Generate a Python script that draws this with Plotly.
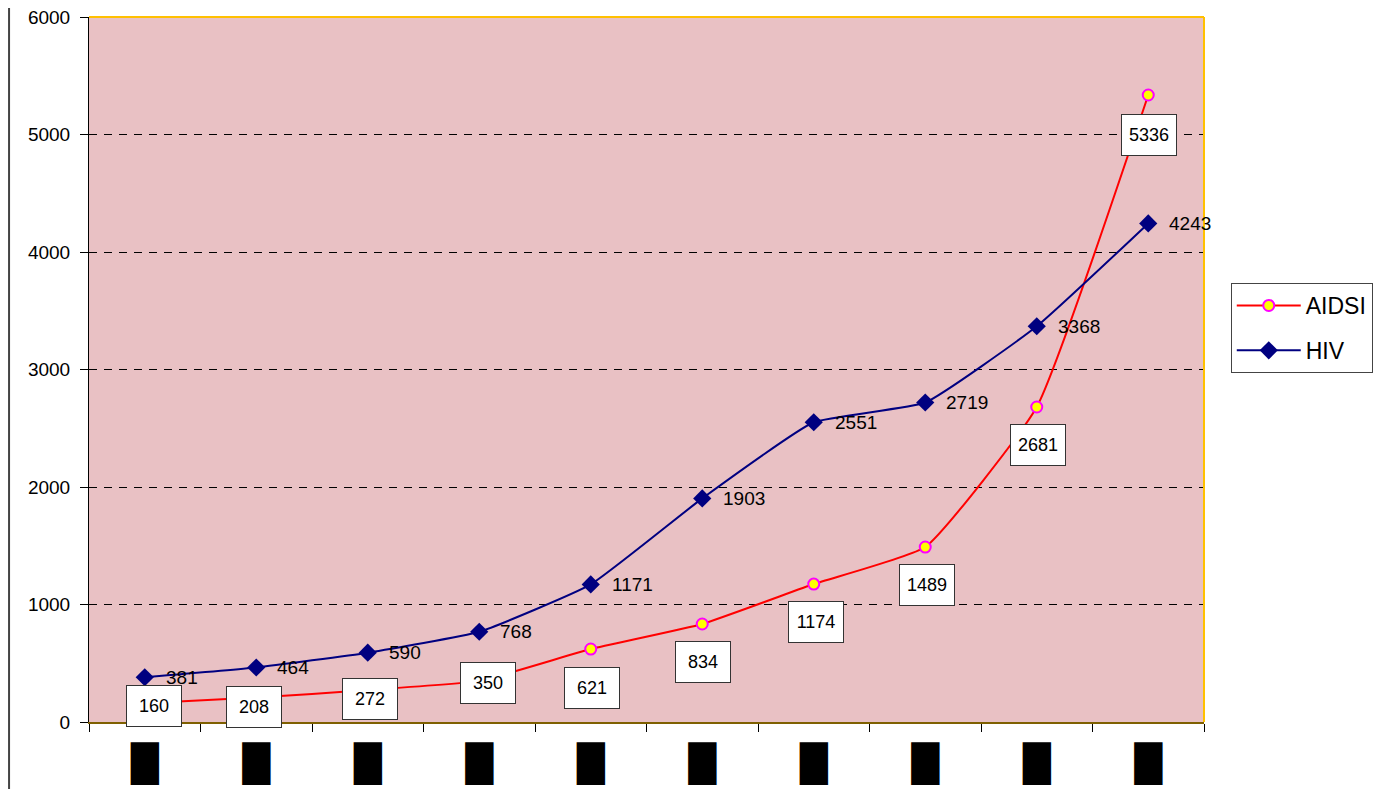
import plotly.graph_objects as go

# ---- data ----
categories = ["c1", "c2", "c3", "c4", "c5", "c6", "c7", "c8", "c9", "c10"]
tick_labels = ["█", "█", "█", "█", "█", "█", "█", "█", "█", "█"]
aids_values = [160, 208, 272, 350, 621, 834, 1174, 1489, 2681, 5336]
hiv_values = [381, 464, 590, 768, 1171, 1903, 2551, 2719, 3368, 4243]
y_ticks = [0, 1000, 2000, 3000, 4000, 5000, 6000]

# label box offsets (px) for the AIDSI data labels
label_dx = [9, -2, 2, 9, 1, 1, 2, 2, 1, 1]
label_dy = [-3, -9, -9, -2, -39, -38, -38, -38, -38, -40]

FONT = "Liberation Sans, Arial, sans-serif"

fig = go.Figure()

fig.add_trace(go.Scatter(
    x=categories, y=aids_values, name="AIDSI", mode="lines+markers",
    legendgroup="a",
    line=dict(color="#FF0000", width=2, shape="spline", smoothing=0.4),
    marker=dict(symbol="circle", size=11, color="#FFFF00",
                line=dict(color="#FF00FF", width=2)),
))
fig.add_trace(go.Scatter(
    x=categories, y=hiv_values, name="HIV", mode="lines+markers",
    legendgroup="h",
    line=dict(color="#000080", width=2, shape="spline", smoothing=0.4),
    marker=dict(symbol="diamond", size=14, color="#000080"),
))

annotations = []
for i, v in enumerate(hiv_values):
    annotations.append(dict(
        x=i, y=v, xref="x", yref="y", text=str(v), showarrow=False,
        xanchor="left", yanchor="middle", xshift=19, yshift=0,
        font=dict(family=FONT, size=19, color="#000000"),
    ))
for i, (v, dx, dy) in enumerate(zip(aids_values, label_dx, label_dy)):
    annotations.append(dict(
        x=i, y=v, xref="x", yref="y", text=str(v), showarrow=False,
        xshift=dx, yshift=dy, width=52, height=38,
        bgcolor="#FFFFFF", bordercolor="#333333", borderwidth=1, borderpad=1,
        font=dict(family=FONT, size=18, color="#000000"),
    ))

fig.update_layout(
    width=1386, height=789,
    margin=dict(l=81, r=190, t=9, b=75, autoexpand=False),
    paper_bgcolor="#FFFFFF",
    plot_bgcolor="#E9C1C4",
    font=dict(family=FONT, size=19, color="#000000"),
    showlegend=True,
    legend=dict(
        x=1.024, y=0.6227, xanchor="left", yanchor="top",
        bgcolor="#FFFFFF", bordercolor="#444444", borderwidth=1,
        font=dict(family=FONT, size=23, color="#000000"),
        itemwidth=64, tracegroupgap=12,
    ),
    annotations=annotations,
    shapes=[
        dict(type="line", xref="paper", yref="paper", x0=0, x1=1, y0=1, y1=1,
             line=dict(color="#FFC000", width=2)),
        dict(type="line", xref="paper", yref="paper", x0=1, x1=1, y0=0, y1=1,
             line=dict(color="#FFC000", width=2)),
        dict(type="line", xref="paper", yref="paper", x0=-0.0717, x1=-0.0717,
             y0=-0.2, y1=1.1, line=dict(color="#444444", width=2)),
    ],
)

fig.update_xaxes(
    type="category", categoryorder="array", categoryarray=categories,
    tickmode="array", tickvals=categories, ticktext=tick_labels,
    tickson="boundaries", ticks="outside", ticklen=8, tickcolor="#000000",
    tickfont=dict(family="DejaVu Sans", size=36, color="#000000"),
    ticklabelstandoff=9, automargin=False, ticklabeloverflow="allow",
    showline=True, linecolor="#7F6000", linewidth=2,
    showgrid=False, zeroline=False, range=[-0.5, 9.5],
)
fig.update_yaxes(
    range=[0, 6000], tickmode="array", tickvals=y_ticks,
    ticks="outside", ticklen=8, tickcolor="#000000",
    tickfont=dict(family=FONT, size=19, color="#000000"),
    ticklabelstandoff=6, automargin=False, ticklabeloverflow="allow",
    showline=True, linecolor="#000000", linewidth=1,
    showgrid=True, gridcolor="#000000", gridwidth=1, griddash="8px,7px",
    zeroline=False,
)

fig.write_html("out.html")
